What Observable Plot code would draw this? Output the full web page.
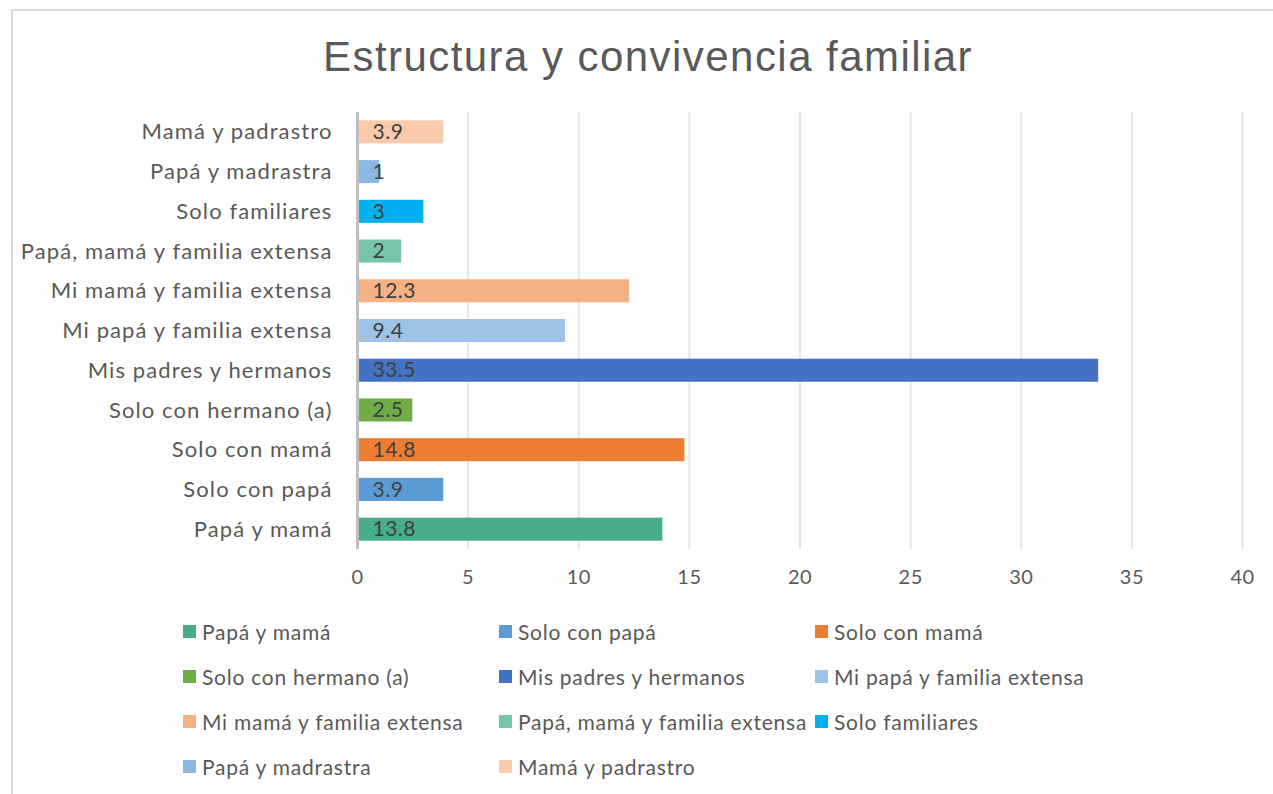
<!DOCTYPE html>
<html>
<head>
<meta charset="utf-8">
<script src="https://cdn.jsdelivr.net/npm/d3@7"></script>
<script src="https://cdn.jsdelivr.net/npm/@observablehq/plot@0.6"></script>
<style>
  html, body { margin: 0; padding: 0; background: #fff; }
  body { width: 1273px; height: 794px; overflow: hidden; position: relative; font-family: Lato, "Open Sans", sans-serif; }
  #frame { position: absolute; left: 11px; top: 9px; width: 1300px; height: 820px; border: 2px solid #d9d9d9; box-sizing: border-box; }
  #title { position: absolute; left: 0; top: 33px; width: 1296px; text-align: center; font-family: "Liberation Sans", Arial, sans-serif; font-size: 42px; color: #595959; letter-spacing: 1.45px; }
  #chart { position: absolute; left: 0; top: 0; }
  #chart svg text { letter-spacing: 1.1px; }
  #chart svg g[aria-label="text"] text { letter-spacing: 0.5px; }
  #chart svg g[aria-label="x-axis tick label"] text { letter-spacing: 0.5px; }
  #legend { position: absolute; left: 183px; top: 619px; width: 1000px; }
  .li { position: absolute; display: flex; align-items: center; font-size: 21px; letter-spacing: 0.75px; color: #595959; white-space: nowrap; height: 24px; }
  .sw { width: 13px; height: 13px; margin-right: 6px; }
</style>
</head>
<body>
<div id="frame"></div>
<div id="chart"></div>
<div id="title">Estructura y convivencia familiar</div>
<div id="legend"></div>
<script>
const categories = [
  "Papá y mamá",
  "Solo con papá",
  "Solo con mamá",
  "Solo con hermano (a)",
  "Mis padres y hermanos",
  "Mi papá y familia extensa",
  "Mi mamá y familia extensa",
  "Papá, mamá y familia extensa",
  "Solo familiares",
  "Papá y madrastra",
  "Mamá y padrastro"
];
const values = [13.8, 3.9, 14.8, 2.5, 33.5, 9.4, 12.3, 2, 3, 1, 3.9];
const colors = ["#47ad89", "#5b9bd5", "#ed7d31", "#70ad47", "#4472c4", "#9dc3e6", "#f4b183", "#78c6aa", "#00b0f0", "#8eb8e3", "#f8cbad"];
const xTicks = [0, 5, 10, 15, 20, 25, 30, 35, 40];
const gridTicks = [5, 10, 15, 20, 25, 30, 35, 40];

const data = categories.map((c, i) => ({cat: c, value: values[i], color: colors[i]}));
const yOrder = categories.slice().reverse();

const font = 'Lato, "Open Sans", sans-serif';
const chart = Plot.plot({
  width: 1273,
  height: 600,
  marginTop: 112,
  marginBottom: 51,
  marginLeft: 357,
  marginRight: 31,
  style: {fontFamily: font, fontSize: "20px", color: "#595959", background: "transparent"},
  x: {domain: [0, 40], ticks: xTicks, label: null, tickSize: 0, tickPadding: 20},
  y: {domain: yOrder, label: null, paddingInner: 0.42, paddingOuter: 0.21, round: false, tickSize: 0, tickPadding: 24},
  color: {domain: categories, range: colors},
  marks: [
    Plot.ruleX(gridTicks, {stroke: "#e6e6e6", strokeWidth: 2}),
    Plot.barX(data, {y: "cat", x: "value", fill: "cat"}),
    Plot.ruleX([0], {stroke: "#bfbfbf", strokeWidth: 3}),
    Plot.text(data, {y: "cat", x: 0, text: d => String(d.value), textAnchor: "start", dx: 15, fill: "#404040", fontSize: 21}),
    Plot.axisX({ticks: xTicks, tickSize: 0, tickPadding: 20, fontSize: 20, fill: "#595959"}),
    Plot.axisY({tickSize: 0, tickPadding: 25, fontSize: 22, fill: "#595959"})
  ]
});
document.getElementById("chart").appendChild(chart);

const legend = document.getElementById("legend");
categories.forEach((c, i) => {
  const col = i % 3, row = Math.floor(i / 3);
  const el = document.createElement("div");
  el.className = "li";
  el.style.left = (col * 316) + "px";
  el.style.top = (row * 45) + "px";
  const sw = document.createElement("span");
  sw.className = "sw";
  sw.style.background = colors[i];
  el.appendChild(sw);
  el.appendChild(document.createTextNode(c));
  legend.appendChild(el);
});
</script>
</body>
</html>
